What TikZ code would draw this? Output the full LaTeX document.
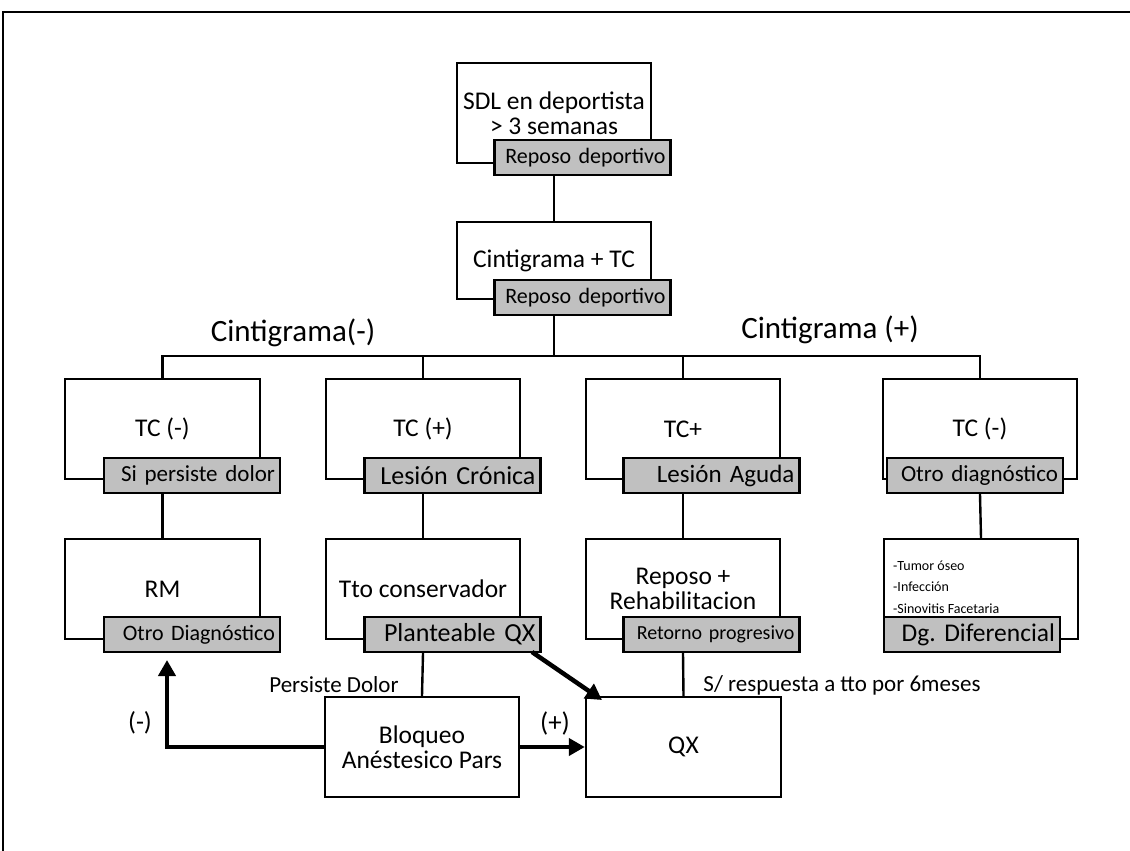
\documentclass[tikz,border=0pt]{standalone}
\usepackage{fontspec}
\setmainfont{Carlito}
\frenchspacing
\usetikzlibrary{arrows.meta,calc}
\definecolor{boxgray}{HTML}{C0C0C0}
\tikzset{
  wbox/.style={draw, line width=2.4pt, minimum width=194pt, minimum height=100pt,
    inner sep=0pt, align=center, font=\fontsize{25.5}{25}\selectfont},
  gbox/.style={draw, fill=boxgray, line width=2.4pt, minimum width=176pt, minimum height=35pt,
    inner xsep=5pt, inner ysep=0pt, text width=166pt, align=right},
  conn/.style={line width=2.4pt},
  thickarrow/.style={line width=4.5pt, -{Triangle[length=16pt,width=17pt]}},
  lbl/.style={inner sep=0pt, font=\fontsize{23}{25}\selectfont},
  biglbl/.style={inner sep=0pt, font=\fontsize{31}{33}\selectfont},
}
\begin{document}
\begin{tikzpicture}[x=1pt,y=-1pt]
\useasboundingbox (0,0) rectangle (1130,851);
% frame
\draw[line width=2pt] (3,851) -- (3,12) -- (1130,12);

% top boxes
\node[wbox] (b1) at (554,113) {SDL en deportista\\> 3 semanas};
\node[gbox, font=\fontsize{22}{24}\selectfont] (g1) at (582.5,157.5) {Reposo deportivo};
\node[wbox, minimum height=77pt] (b2) at (554,260.5) {Cintigrama + TC};
\node[gbox, font=\fontsize{22}{24}\selectfont] (g2) at (582.5,297.5) {Reposo deportivo};

% row 2
\node[wbox, minimum width=195pt] (r1) at (162.5,429) {TC (-)};
\node[wbox] (r2) at (423,429) {TC (+)};
\node[wbox] (r3) at (683,429) {TC+};
\node[wbox] (r4) at (980,429) {TC (-)};
\node[gbox, font=\fontsize{23}{25}\selectfont] (s1) at (192,475.5) {Si persiste dolor};
\node[gbox, font=\fontsize{26}{28}\selectfont] (s2) at (452.5,475.5) {Lesión Crónica};
\node[gbox, font=\fontsize{25}{27}\selectfont] (s3) at (711.5,475.5) {Lesión Aguda};
\node[gbox, font=\fontsize{23}{25}\selectfont] (s4) at (975,475.5) {Otro diagnóstico};

% row 3
\node[wbox, minimum width=195pt] (t1) at (162.5,589) {RM};
\node[wbox] (t2) at (423,589) {Tto conservador};
\node[wbox] (t3) at (683,589) {Reposo +\\Rehabilitacion};
\node[wbox] (t4) at (981,589) {};
\node[inner sep=0pt, anchor=west, align=left, font=\fontsize{14}{21.5}\selectfont] (dl) at (893,587)
  {-Tumor óseo\\-Infección\\-Sinovitis Facetaria};
\node[gbox, font=\fontsize{22}{24}\selectfont] (u1) at (192,634.5) {Otro Diagnóstico};
\node[gbox, font=\fontsize{26}{28}\selectfont] (u2) at (452.5,634.5) {Planteable QX};
\node[gbox, font=\fontsize{20}{22}\selectfont] (u3) at (711.5,634.5) {Retorno progresivo};
\node[gbox, font=\fontsize{25.5}{27}\selectfont] (u4) at (972,634.5) {Dg.\ Diferencial};

% row 4
\node[wbox] (bq) at (422,747) {Bloqueo\\Anéstesico Pars};
\node[wbox, minimum width=195pt] (qx) at (683.5,747) {QX};

% labels
\node[biglbl] (cneg) at (293,333) {Cintigrama(-)};
\node[biglbl] (cpos) at (830,330) {Cintigrama (+)};
\node[lbl] (pd) at (334,685) {Persiste Dolor};
\node[lbl] (sr) at (842,685) {S/ respuesta a tto por 6meses};
\node[inner sep=0pt, font=\fontsize{26}{28}\selectfont] (mneg) at (140,723) {(-)};
\node[inner sep=0pt, font=\fontsize{27}{29}\selectfont] (mpos) at (555,723) {(+)};

% connectors
\coordinate (hy) at (0,356);
\draw[conn] (b1 |- g1.south) -- (b2.north);
\draw[conn] (b2 |- g2.south) -- (b2 |- hy);
\draw[conn] (r1.north) -- (r1 |- hy) -- (r4 |- hy) -- (r4.north);
\draw[conn] (r2 |- hy) -- (r2.north);
\draw[conn] (r3 |- hy) -- (r3.north);
\draw[conn] (r1 |- s1.south) -- (t1.north);
\draw[conn] (r2 |- s2.south) -- (t2.north);
\draw[conn] (r3 |- s3.south) -- (t3.north);
\draw[conn] (r4 |- s4.south) -- (t4.north);
\draw[conn] (t2 |- u2.south) -- (bq.north);
\draw[conn] (t3 |- u3.south) -- (qx.north);

% arrows
\coordinate (mtip) at (167,660);
\coordinate (qxin) at (602,700);
\coordinate (qxout) at (532,652);
\draw[thickarrow] (bq.west) -| (mtip);
\draw[thickarrow] (bq.east) -- (qx.west);
\draw[thickarrow] (qxout) -- (qxin);
\end{tikzpicture}
\end{document}
